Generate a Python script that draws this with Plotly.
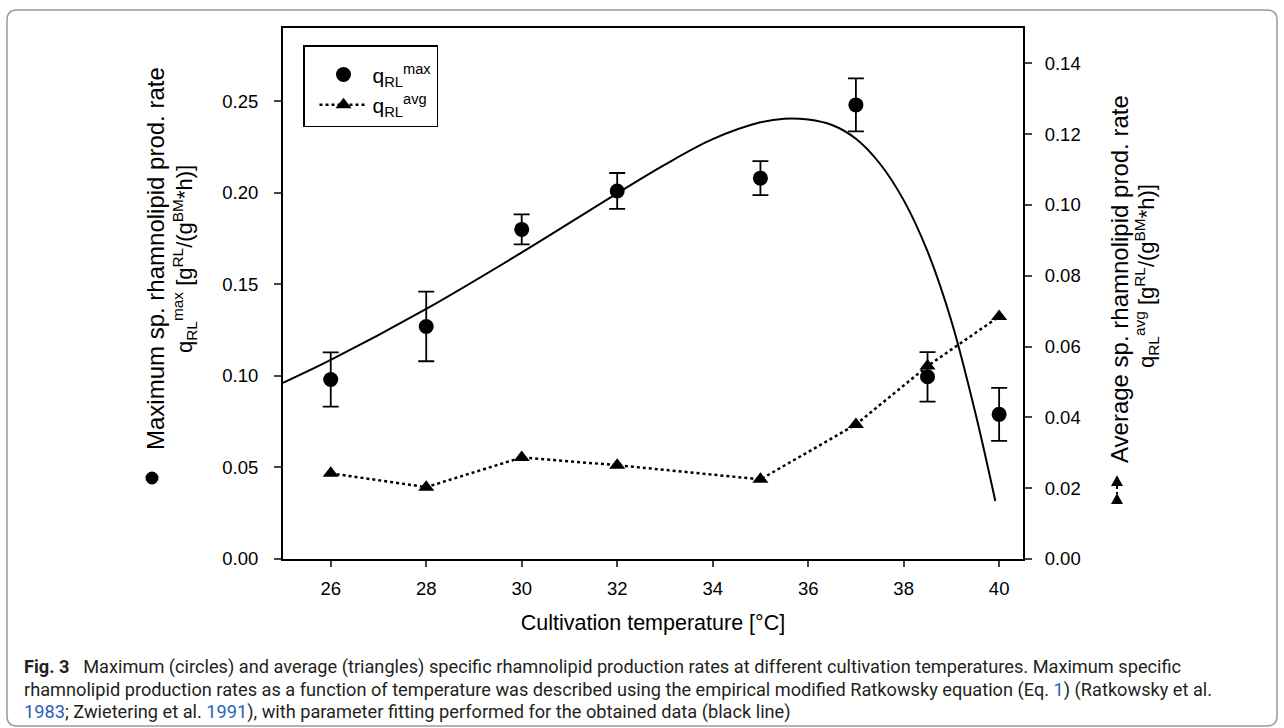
import plotly.graph_objects as go

# ---------------- data ----------------
temps = [26, 28, 30, 32, 35, 37, 38.5, 40]
q_max = [0.098, 0.127, 0.180, 0.201, 0.208, 0.248, 0.0995, 0.079]
q_max_err = [0.0148, 0.019, 0.0082, 0.0098, 0.0093, 0.0145, 0.0135, 0.0145]
q_avg = [0.0242, 0.0203, 0.0287, 0.0265, 0.0225, 0.0380, 0.0545, 0.0685]

fit_T = [25, 26, 28, 30, 32, 33, 34, 35, 35.5, 36, 36.5, 37, 37.5, 38,
         38.5, 39, 39.5, 39.92]
fit_q = [0.0962, 0.1087, 0.1366, 0.1674, 0.1997, 0.2154, 0.2293, 0.2385,
         0.2405, 0.2400, 0.2370, 0.2295, 0.2160, 0.1960, 0.1680, 0.1300,
         0.0800, 0.0317]

x_ticks = [26, 28, 30, 32, 34, 36, 38, 40]
left_ticks = [0.00, 0.05, 0.10, 0.15, 0.20, 0.25]
right_ticks = [0.00, 0.02, 0.04, 0.06, 0.08, 0.10, 0.12, 0.14]

# ---------------- layout geometry ----------------
W, H = 1284, 728
L, R, T, B = 283, 1023, 28, 559


def px(x):
    return (x - L) / (R - L)


def py(y):
    return (B - y) / (B - T)


FONT = "Liberation Sans, Arial, sans-serif"
CAP = "Roboto, 'Open Sans', sans-serif"

fig = go.Figure()

fig.add_trace(go.Scatter(
    x=fit_T, y=fit_q, mode="lines", line=dict(color="black", width=2, shape="spline"),
    showlegend=False, hoverinfo="skip"))

fig.add_trace(go.Scatter(
    x=temps, y=q_max, mode="markers", name="q<sub>RL</sub><sup>max</sup>",
    marker=dict(symbol="circle", size=15, color="black"),
    error_y=dict(type="data", array=q_max_err, visible=True, color="black",
                 thickness=1.8, width=8)))

fig.add_trace(go.Scatter(
    x=temps, y=q_avg, mode="lines+markers", name="q<sub>RL</sub><sup>avg</sup>",
    yaxis="y2",
    line=dict(color="black", width=2.5, dash="dot"),
    marker=dict(symbol="triangle-up", size=14, color="black")))

annotations = []

# left axis title (two rotated lines)
annotations.append(dict(x=px(155), y=py(259), xref="paper", yref="paper",
                        text="Maximum sp. rhamnolipid prod. rate", textangle=-90,
                        showarrow=False, font=dict(family=FONT, size=24, color="black"),
                        xanchor="center", yanchor="middle"))
annotations.append(dict(x=px(184), y=py(259), xref="paper", yref="paper",
                        text="q<sub>RL</sub><sup>max</sup> [g<sup>RL</sup>/(g<sup>BM</sup>*h)]",
                        textangle=-90, showarrow=False,
                        font=dict(family=FONT, size=22, color="black"),
                        xanchor="center", yanchor="middle"))

# right axis title
annotations.append(dict(x=px(1119), y=py(279), xref="paper", yref="paper",
                        text="Average sp. rhamnolipid prod. rate", textangle=-90,
                        showarrow=False, font=dict(family=FONT, size=24, color="black"),
                        xanchor="center", yanchor="middle"))
annotations.append(dict(x=px(1146), y=py(276), xref="paper", yref="paper",
                        text="q<sub>RL</sub><sup>avg</sup> [g<sup>RL</sup>/(g<sup>BM</sup>*h)]",
                        textangle=-90, showarrow=False,
                        font=dict(family=FONT, size=22, color="black"),
                        xanchor="center", yanchor="middle"))

# caption
blue = "#2a62b8"
cap_lines = [
    "<b>Fig. 3</b>\u2002 Maximum (circles) and average (triangles) specific rhamnolipid production rates at different cultivation temperatures. Maximum specific",
    "rhamnolipid production rates as a function of temperature was described using the empirical modified Ratkowsky equation (Eq. "
    f"<span style='color:{blue}'>1</span>) (Ratkowsky et al.",
    f"<span style='color:{blue}'>1983</span>; Zwietering et al. <span style='color:{blue}'>1991</span>), with parameter fitting performed for the obtained data (black line)",
]
for i, t in enumerate(cap_lines):
    annotations.append(dict(x=px(22), y=py(667 + 22.5 * i), xref="paper", yref="paper",
                            text=t, showarrow=False, align="left",
                            font=dict(family=CAP, size=18.2, color="#231f20"),
                            xanchor="left", yanchor="middle"))

shapes = []
# left title symbol: filled circle
cr = 6.5
shapes.append(dict(type="circle", xref="paper", yref="paper",
                   x0=px(152 - cr), x1=px(152 + cr), y0=py(478 + cr), y1=py(478 - cr),
                   fillcolor="black", line=dict(color="black", width=0)))


# right title symbol: two triangles joined by a dotted line
def tri(cx, cy, s=6):
    return (f"M {px(cx - s)},{py(cy + s * 0.85)} L {px(cx + s)},{py(cy + s * 0.85)} "
            f"L {px(cx)},{py(cy - s * 0.95)} Z")


for cy in (481, 499):
    shapes.append(dict(type="path", xref="paper", yref="paper", path=tri(1117, cy),
                       fillcolor="black", line=dict(color="black", width=0)))
shapes.append(dict(type="line", xref="paper", yref="paper",
                   x0=px(1117), x1=px(1117), y0=py(486), y1=py(494),
                   line=dict(color="black", width=2, dash="dot")))

# outer rounded border
x0, x1, y0, y1, r = px(7), px(1277), py(10), py(726), 10
rx = r / (R - L)
ry = r / (B - T)
path = (f"M {x0 + rx},{y0} L {x1 - rx},{y0} Q {x1},{y0} {x1},{y0 - ry} "
        f"L {x1},{y1 + ry} Q {x1},{y1} {x1 - rx},{y1} L {x0 + rx},{y1} "
        f"Q {x0},{y1} {x0},{y1 + ry} L {x0},{y0 - ry} Q {x0},{y0} {x0 + rx},{y0} Z")
shapes.append(dict(type="path", xref="paper", yref="paper", path=path,
                   line=dict(color="#9a9a9a", width=1.5), layer="below"))

fig.update_layout(
    width=W, height=H, autosize=False,
    margin=dict(l=L, r=W - R, t=T, b=H - B, pad=0),
    paper_bgcolor="white", plot_bgcolor="white",
    font=dict(family=FONT, size=18, color="black"),
    xaxis=dict(range=[25, 40.5], tickvals=x_ticks, ticks="outside", ticklen=6,
               tickwidth=2, showline=True, linecolor="black", linewidth=2,
               mirror=True, showgrid=False, zeroline=False,
               ticklabelstandoff=6,
               tickfont=dict(family=FONT, size=18.5),
               title=dict(text="Cultivation temperature [°C]", standoff=17,
                          font=dict(family=FONT, size=21.5))),
    yaxis=dict(range=[0, 0.29], tickvals=left_ticks, tickformat=".2f",
               ticks="outside", ticklen=7, tickwidth=2, showline=True,
               linecolor="black", linewidth=2, showgrid=False, zeroline=False,
               ticklabelstandoff=12,
               tickfont=dict(family=FONT, size=18.5)),
    yaxis2=dict(range=[0, 0.15], tickvals=right_ticks, tickformat=".2f",
                overlaying="y", side="right", anchor="x",
                ticks="outside", ticklen=7, tickwidth=2, showline=True,
                linecolor="black", linewidth=2, showgrid=False, zeroline=False,
                ticklabelstandoff=9,
                tickfont=dict(family=FONT, size=18.5)),
    legend=dict(x=px(303), y=py(45), xanchor="left", yanchor="top",
                bgcolor="white", bordercolor="black", borderwidth=1.5,
                font=dict(family=FONT, size=21), tracegroupgap=0,
                itemwidth=48, indentation=10,
                title=dict(text=" ", font=dict(size=6))),
    annotations=annotations, shapes=shapes,
)

fig.write_html("out.html")
